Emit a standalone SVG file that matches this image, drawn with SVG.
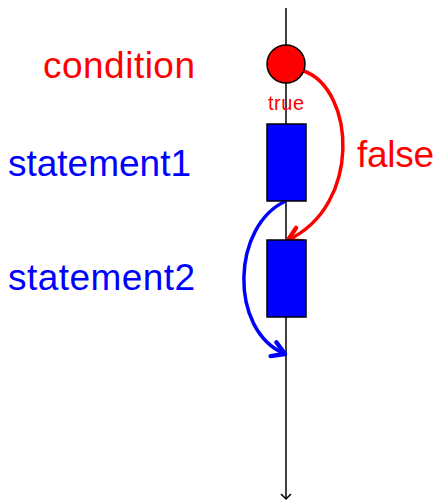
<svg xmlns="http://www.w3.org/2000/svg" width="439" height="501" viewBox="0 0 439 501">
<style>
.lbl{font-family:"Liberation Sans",Arial,sans-serif;font-size:37px}
.red{fill:#ff0000}
.blue{fill:#0000ff}
.box{fill:#0000ff;stroke:#000;stroke-width:1.5}
</style>
<defs>
<marker id="ar" markerUnits="userSpaceOnUse" markerWidth="20" markerHeight="20" viewBox="-12 -8 14 16" refX="0" refY="0" orient="auto">
<path d="M-10,-6 L0,0 L-10,6" fill="none" stroke="#ff0000" stroke-width="3.5" stroke-linecap="round" stroke-linejoin="round"/>
</marker>
<marker id="ab" markerUnits="userSpaceOnUse" markerWidth="20" markerHeight="20" viewBox="-12 -8 14 16" refX="0" refY="0" orient="auto">
<path d="M-10,-6 L0,0 L-10,6" fill="none" stroke="#0000ff" stroke-width="3.5" stroke-linecap="round" stroke-linejoin="round"/>
</marker>
<marker id="ak" markerUnits="userSpaceOnUse" markerWidth="14" markerHeight="14" viewBox="-8 -7 10 14" refX="0" refY="0" orient="auto">
<path d="M-5,-5 L0,0 L-5,5" fill="none" stroke="#000" stroke-width="1.5"/>
</marker>
</defs>
<g id="connectors">
<line x1="286" y1="8" x2="286" y2="499" stroke="#000" stroke-width="1.5" marker-end="url(#ak)"/>
<path d="M304,71 C355,90 362,205 288,240" fill="none" stroke="#ff0000" stroke-width="3.5" marker-end="url(#ar)"/>
<path d="M286,201 C232,225 228,330 285,354" fill="none" stroke="#0000ff" stroke-width="3.5" marker-end="url(#ab)"/>
</g>
<g id="condition">
<circle cx="286" cy="64" r="19" fill="#ff0000" stroke="#000" stroke-width="1.5"/>
<text class="lbl red" x="195" y="78" text-anchor="end" textLength="152">condition</text>
</g>
<g id="true-label">
<text x="286" y="110" text-anchor="middle" font-family="Liberation Sans, Arial, sans-serif" font-size="20" fill="#ff0000" textLength="36">true</text>
</g>
<g id="false-label">
<text class="lbl red" x="357" y="167" textLength="77">false</text>
</g>
<g id="statement1">
<rect class="box" x="267" y="124" width="39" height="77"/>
<text class="lbl blue" x="8" y="176" textLength="183">statement1</text>
</g>
<g id="statement2">
<rect class="box" x="267" y="240" width="39" height="77"/>
<text class="lbl blue" x="8" y="290" textLength="187">statement2</text>
</g>
</svg>
